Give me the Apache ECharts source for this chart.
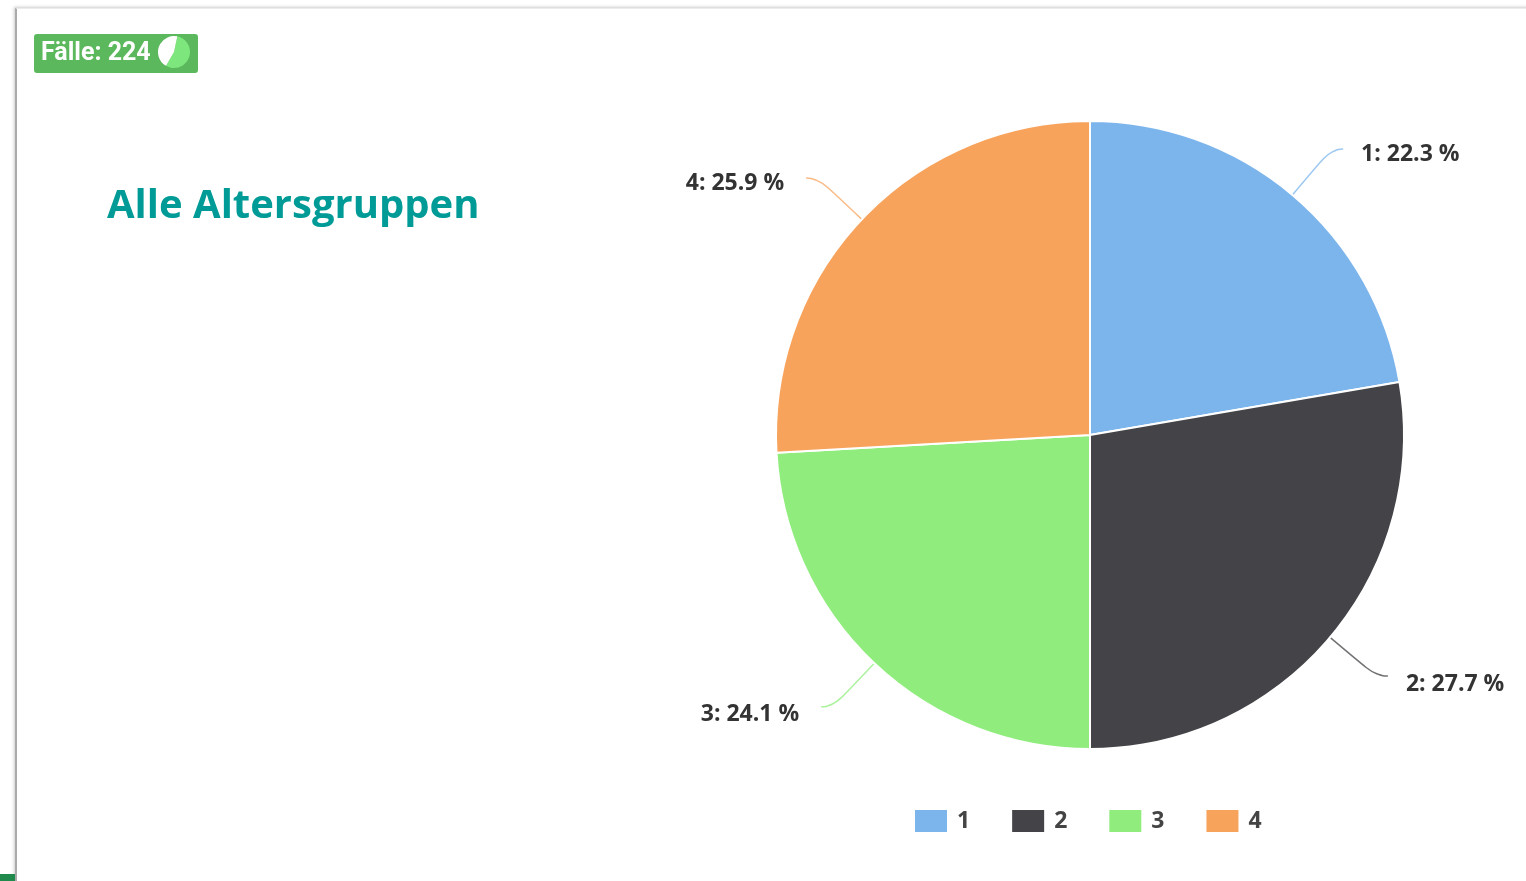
<!DOCTYPE html>
<html>
<head>
<meta charset="utf-8">
<title>Alle Altersgruppen</title>
<script src="https://cdn.jsdelivr.net/npm/echarts@6/dist/echarts.min.js"></script>
<style>
    html, body { margin: 0; padding: 0; background: #fff; overflow: hidden; }
    #main { position: absolute; left: 0; top: 0; width: 1526px; height: 881px; }
    /* Rand der Karte links und oben */
    #edge { position: absolute; left: 15px; top: 8px; width: 1520px; height: 880px; border-left: 2px solid #aaa; border-top: 1px solid #ececec; box-shadow: -1px -1px 3px #ccc; }
    #foot { position: absolute; left: 0; top: 874px; width: 15px; height: 7px; background: #1f8a4c; }
</style>
</head>
<body>
<div id="edge"></div>
<div id="foot"></div>
<div id="main"></div>
<script>
// Daten
var categories = ["1", "2", "3", "4"];
var percentValues = [22.3, 27.7, 24.1, 25.9];
var sliceColors = ["#7cb5ec", "#434348", "#90ed7d", "#f7a35c"];
var badgeValues = [55, 45];
var badgeColors = ["#7de67d", "#ffffff"];
var caseText = "Fälle: 224";
var titleText = "Alle Altersgruppen";

var chart = echarts.init(document.getElementById("main"), null, { renderer: "canvas" });

var pieData = categories.map(function (name, i) {
    return { name: name, value: percentValues[i], itemStyle: { color: sliceColors[i] } };
});

chart.setOption({
    animation: false,
    backgroundColor: "transparent",
    title: {
        text: titleText,
        left: 107,
        top: 187,
        padding: 0,
        textStyle: { fontFamily: "Open Sans", fontSize: 40, fontWeight: 700, color: "#009b96" }
    },
    legend: {
        data: categories,
        left: 913,
        top: 808,
        padding: 0,
        itemWidth: 34,
        itemHeight: 24,
        itemGap: 40,
        icon: "rect",
        textStyle: { fontFamily: "Open Sans", fontSize: 23, fontWeight: 700, color: "#444", padding: [0, 0, 0, 4] }
    },
    // Badge oben links
    graphic: [
        {
            type: "rect",
            z: 1,
            shape: { x: 34, y: 34, width: 164, height: 39, r: 3 },
            style: { fill: "#5cb85c" }
        },
        {
            type: "text",
            z: 1,
            left: 41,
            top: 41,
            style: { text: caseText, fill: "#fff", font: "bold 25px Roboto" }
        }
    ],
    series: [
        {
            type: "pie",
            center: [1090, 435],
            radius: 314,
            startAngle: 90,
            clockwise: true,
            itemStyle: { borderColor: "#fff", borderWidth: 2 },
            label: {
                formatter: "{b}: {c} %",
                fontFamily: "Open Sans",
                fontSize: 23,
                fontWeight: 700,
                color: "#333",
                distanceToLabelLine: 18
            },
            // linke Labels etwas weiter weg, untere etwas tiefer
            labelLayout: function (params) {
                return {
                    dx: params.labelRect.x < 1090 ? -4 : 0,
                    dy: params.labelRect.y > 435 ? 8 : 5
                };
            },
            labelLine: { length: 60, length2: 12, smooth: 0.6, lineStyle: { width: 1.5, opacity: 0.75 } },
            data: pieData
        },
        {
            // kleines Symbol im Badge
            type: "pie",
            center: [174, 52],
            radius: 16,
            startAngle: 78,
            silent: true,
            label: { show: false },
            labelLine: { show: false },
            data: badgeValues.map(function (v, i) {
                return { name: "badge" + i, value: v, itemStyle: { color: badgeColors[i] } };
            })
        }
    ]
});
</script>
</body>
</html>
